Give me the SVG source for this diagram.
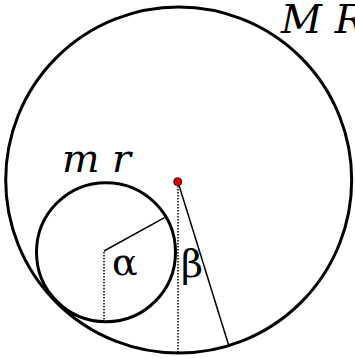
<svg xmlns="http://www.w3.org/2000/svg" width="355" height="358" viewBox="0 0 355 358">
<style>
.big{fill:none;stroke:#000;stroke-width:3}
.line{fill:none;stroke:#000;stroke-width:1.5}
.dot{fill:none;stroke:#000;stroke-width:1.5;stroke-dasharray:1.5 1.5}
.it{font-family:"DejaVu Serif",serif;font-style:italic;font-size:40px;fill:#000}
.gr{font-family:"DejaVu Serif",serif;font-size:38px;fill:#000}
</style>
<rect width="355" height="358" fill="#fff"/>
<g id="connectors">
<line class="dot" x1="104" y1="252" x2="104" y2="322"/>
<line class="line" x1="104" y1="251" x2="164.5" y2="217.7"/>
<line class="dot" x1="178" y1="186" x2="178" y2="353"/>
<line class="line" x1="178" y1="182" x2="228.7" y2="345.3"/>
</g>
<g id="bigCircle">
<circle class="big" cx="178.7" cy="180" r="173"/>
<text class="it" x="281" y="33">M R</text>
</g>
<g id="smallCircle">
<circle class="big" cx="106" cy="252.2" r="69.5"/>
<text class="it" x="62" y="172" textLength="69" lengthAdjust="spacingAndGlyphs">m r</text>
</g>
<g id="center">
<circle cx="177.7" cy="181.7" r="4" fill="#e00000" stroke="#400" stroke-width="1"/>
</g>
<g id="labels">
<text class="gr" x="112" y="275">α</text>
<text class="gr" x="181" y="277">β</text>
</g>
</svg>
